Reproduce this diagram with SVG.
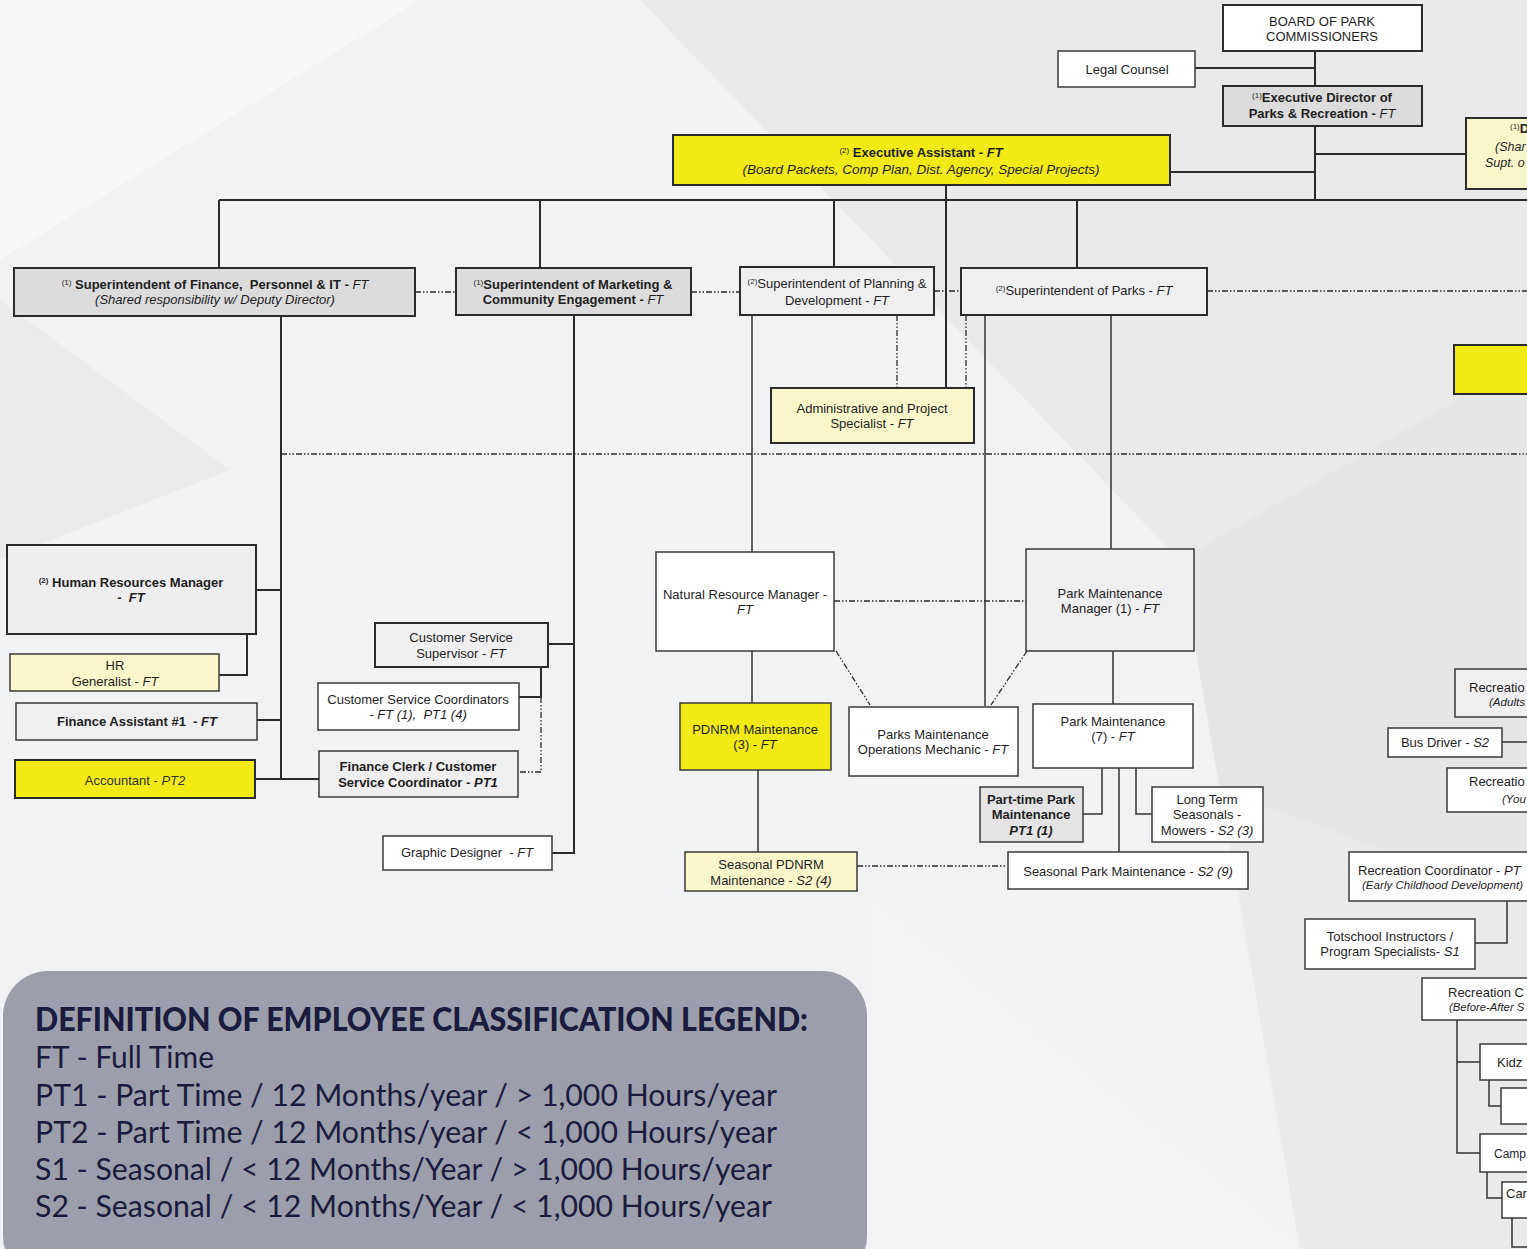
<svg xmlns="http://www.w3.org/2000/svg" width="1527" height="1249" viewBox="0 0 1527 1249">
<style>
.t{font-family:"Liberation Sans",Arial,sans-serif;font-size:13px;fill:#1e1e1e;text-anchor:middle}
.s{text-anchor:start}
.b{font-weight:bold}
.i{font-style:italic}
.n{font-weight:normal}
.sup{font-size:8px}
.f11{font-size:11.3px}
.f115{font-size:11.6px}
.f12{font-size:12px}
.f125{font-size:12.5px}
.f135{font-size:13.5px}
.box{stroke:#2b2b2b;stroke-width:2}
.sm{stroke:#3a3a3a;stroke-width:1.5}
.w{fill:#ffffff}
.g{fill:#dcdcdd}
.lg{fill:#efeff0}
.y{fill:#f2ea14}
.ly{fill:#faf6cc}
.c{fill:none;stroke:#2b2b2b;stroke-width:2}
.c2{fill:none;stroke:#333;stroke-width:1.5}
.d{fill:none;stroke:#2b2b2b;stroke-width:1.3;stroke-dasharray:6 2 1.5 2 1.5 2}
.lt{font-family:Lato,"Open Sans",sans-serif;fill:#1b1b3f}
</style>
<g id="background">
<rect width="1527" height="1249" fill="#eaeaeb"/>
<polygon points="0,0 640,0 1180,560 1300,1249 0,1249" fill="#f1f2f3"/>
<polygon points="0,0 420,0 0,260" fill="#f6f7f8"/>
<polygon points="0,300 230,470 0,560" fill="#ebebec"/>
<polygon points="870,900 1300,1249 870,1249" fill="#f3f4f5"/>
<polygon points="1180,560 1527,360 1527,900 1220,790" fill="#e6e6e7"/>
</g>
<g id="connectors">
<path class="c" d="M1315 51V86M1195 68H1315M1315 126V200M1315 154H1466M1170 172H1315"/>
<path class="c" stroke-width="2.5" d="M219 200H1527"/>
<path class="c" d="M219 200V268M540 200V268M834 200V267M1077 200V268M946 185V388"/>
<path class="c" d="M281 316V779M256 590H281M257 720H281M255 779H319M247 634V675H219"/>
<path class="c" d="M574 315V853H552M548 644H574M541 667V697H519"/>
<path class="c2" d="M752 315V552M985 315V706M1111 315V550M752 651V703M758 770V852M1113 651V704M1102 768V814H1083M1119 768V852M1136 768V814H1152"/>
<path class="c2" d="M1502 742H1527M1507 901V943H1475M1457 1020V1153H1480M1457 1062H1480M1489 1080V1106H1501M1487 1172V1198H1502M1512 1218V1247H1527"/>
<path class="d" d="M415 292H456M691 292H740M934 291H961M1207 291H1527M281 454H1527M897 315V388M966 315V388M541 697V772H518M834 601H1026M857 866H1007M836 651L870 705M1027 651L991 705"/>
</g>
<g id="board"><rect class="box w" x="1223" y="5" width="199" height="46"/>
<text class="t" x="1322" y="26">BOARD OF PARK</text><text class="t" x="1322" y="41">COMMISSIONERS</text></g>
<g id="legal"><rect class="sm w" x="1058" y="51" width="137" height="36"/>
<text class="t" x="1127" y="74">Legal Counsel</text></g>
<g id="exec-director"><rect class="box g" x="1223" y="86" width="199" height="40"/>
<text class="t b" x="1322" y="102"><tspan class="sup n" dy="-4">(1)</tspan><tspan dy="4">Executive Director of</tspan></text>
<text class="t b" x="1322" y="118">Parks &amp; Recreation - <tspan class="i n">FT</tspan></text></g>
<g id="deputy"><rect class="box ly" x="1466" y="118" width="70" height="71"/>
<text class="t s" x="1510" y="133"><tspan class="sup" dy="-4">(1)</tspan><tspan class="b" dy="4">D</tspan></text>
<text class="t s i f125" x="1495" y="151">(Shar</text>
<text class="t s i f125" x="1485" y="167">Supt. o</text></g>
<g id="exec-assistant"><rect class="box y" x="673" y="135" width="497" height="50"/>
<text class="t b" x="921" y="157"><tspan class="sup n" dy="-4">(2)</tspan><tspan dy="4"> Executive Assistant - </tspan><tspan class="i">FT</tspan></text>
<text class="t i f135" x="921" y="174">(Board Packets, Comp Plan, Dist. Agency, Special Projects)</text></g>
<g id="right-yellow"><rect class="box y" x="1454" y="345" width="80" height="49"/></g>
<g id="supt-finance"><rect class="box g" x="14" y="268" width="401" height="48"/>
<text class="t b" x="215" y="289" xml:space="preserve"><tspan class="sup n" dy="-4">(1)</tspan><tspan dy="4"> Superintendent of Finance,  Personnel &amp; IT - </tspan><tspan class="i n">FT</tspan></text>
<text class="t i" x="215" y="304">(Shared responsibility w/ Deputy Director)</text></g>
<g id="supt-marketing"><rect class="box g" x="456" y="268" width="235" height="47"/>
<text class="t b" x="573" y="289"><tspan class="sup n" dy="-4">(1)</tspan><tspan dy="4">Superintendent of Marketing &amp;</tspan></text>
<text class="t b" x="573" y="304">Community Engagement - <tspan class="i n">FT</tspan></text></g>
<g id="supt-planning"><rect class="box lg" x="740" y="267" width="194" height="48"/>
<text class="t" x="837" y="288"><tspan class="sup" dy="-4">(2)</tspan><tspan dy="4">Superintendent of Planning &amp;</tspan></text>
<text class="t" x="837" y="305">Development - <tspan class="i">FT</tspan></text></g>
<g id="supt-parks"><rect class="box lg" x="961" y="268" width="246" height="47"/>
<text class="t" x="1084" y="295"><tspan class="sup" dy="-4">(2)</tspan><tspan dy="4">Superintendent of Parks - </tspan><tspan class="i">FT</tspan></text></g>
<g id="admin-specialist"><rect class="box ly" x="771" y="388" width="203" height="55"/>
<text class="t" x="872" y="413">Administrative and Project</text>
<text class="t" x="872" y="428">Specialist - <tspan class="i">FT</tspan></text></g>
<g id="hr-manager"><rect class="box" fill="#eeeeef" stroke-width="2.5" x="7" y="545" width="249" height="89"/>
<text class="t b" x="131" y="587"><tspan class="sup" dy="-4">(2)</tspan><tspan dy="4"> Human Resources Manager</tspan></text>
<text class="t b" x="131" y="602" xml:space="preserve">-  <tspan class="i">FT</tspan></text></g>
<g id="hr-generalist"><rect class="sm ly" x="10" y="654" width="209" height="37"/>
<text class="t" x="115" y="670">HR</text>
<text class="t" x="115" y="686">Generalist - <tspan class="i">FT</tspan></text></g>
<g id="finance-assistant"><rect class="sm lg" x="16" y="703" width="241" height="37"/>
<text class="t b" x="137" y="726" xml:space="preserve">Finance Assistant #1  - <tspan class="i">FT</tspan></text></g>
<g id="accountant"><rect class="box y" x="15" y="760" width="240" height="38"/>
<text class="t" x="135" y="785" style="fill:#333">Accountant - <tspan class="i">PT2</tspan></text></g>
<g id="cs-supervisor"><rect class="box lg" x="375" y="623" width="173" height="44"/>
<text class="t" x="461" y="642">Customer Service</text>
<text class="t" x="461" y="658">Supervisor - <tspan class="i">FT</tspan></text></g>
<g id="cs-coordinators"><rect class="sm w" x="318" y="683" width="201" height="47"/>
<text class="t" x="418" y="704">Customer Service Coordinators</text>
<text class="t i" x="418" y="719" xml:space="preserve">- FT (1),  PT1 (4)</text></g>
<g id="finance-clerk"><rect class="sm lg" x="319" y="751" width="199" height="46"/>
<text class="t b" x="418" y="771">Finance Clerk / Customer</text>
<text class="t b" x="418" y="787">Service Coordinator - <tspan class="i">PT1</tspan></text></g>
<g id="graphic-designer"><rect class="sm w" x="383" y="836" width="169" height="34"/>
<text class="t" x="467" y="857" xml:space="preserve">Graphic Designer  - <tspan class="i">FT</tspan></text></g>
<g id="nat-resource-mgr"><rect class="sm w" x="656" y="552" width="178" height="99"/>
<text class="t" x="745" y="599">Natural Resource Manager -</text>
<text class="t i" x="745" y="614">FT</text></g>
<g id="park-maint-mgr"><rect class="sm lg" x="1026" y="549" width="168" height="102"/>
<text class="t" x="1110" y="598">Park Maintenance</text>
<text class="t" x="1110" y="613">Manager (1) - <tspan class="i">FT</tspan></text></g>
<g id="pdnrm"><rect class="sm y" x="680" y="703" width="151" height="67"/>
<text class="t" x="755" y="734">PDNRM Maintenance</text>
<text class="t" x="755" y="749">(3) - <tspan class="i">FT</tspan></text></g>
<g id="mechanic"><rect class="sm w" x="849" y="707" width="169" height="69"/>
<text class="t" x="933" y="739">Parks Maintenance</text>
<text class="t" x="933" y="754">Operations Mechanic - <tspan class="i">FT</tspan></text></g>
<g id="park-maint"><rect class="sm w" x="1033" y="704" width="160" height="64"/>
<text class="t" x="1113" y="726">Park Maintenance</text>
<text class="t" x="1113" y="741">(7) - <tspan class="i">FT</tspan></text></g>
<g id="pt-park-maint"><rect class="sm" fill="#e4e4e5" x="980" y="787" width="103" height="55"/>
<text class="t b" x="1031" y="804">Part-time Park</text>
<text class="t b" x="1031" y="819">Maintenance</text>
<text class="t b i" x="1031" y="835">PT1 (1)</text></g>
<g id="long-term"><rect class="sm w" x="1152" y="787" width="111" height="55"/>
<text class="t" x="1207" y="804">Long Term</text>
<text class="t" x="1207" y="819">Seasonals -</text>
<text class="t" x="1207" y="835">Mowers - <tspan class="i">S2 (3)</tspan></text></g>
<g id="seasonal-pdnrm"><rect class="sm ly" x="685" y="852" width="172" height="39"/>
<text class="t" x="771" y="869">Seasonal PDNRM</text>
<text class="t" x="771" y="885">Maintenance - <tspan class="i">S2 (4)</tspan></text></g>
<g id="seasonal-park"><rect class="sm w" x="1008" y="852" width="240" height="37"/>
<text class="t" x="1128" y="876">Seasonal Park Maintenance - <tspan class="i">S2 (9)</tspan></text></g>
<g id="rec-adults"><rect class="sm lg" x="1455" y="669" width="80" height="48"/>
<text class="t s" x="1469" y="692">Recreatio</text>
<text class="t s i f115" x="1489" y="706">(Adults</text></g>
<g id="bus-driver"><rect class="sm w" x="1388" y="728" width="114" height="29"/>
<text class="t" x="1445" y="747">Bus Driver - <tspan class="i">S2</tspan></text></g>
<g id="rec-youth"><rect class="sm w" x="1447" y="768" width="90" height="44"/>
<text class="t s" x="1469" y="786">Recreatio</text>
<text class="t s i f115" x="1502" y="803">(You</text></g>
<g id="rec-early"><rect class="sm w" x="1349" y="852" width="190" height="49"/>
<text class="t s" x="1358" y="875">Recreation Coordinator - <tspan class="i">PT</tspan></text>
<text class="t s i f115" x="1362" y="889">(Early Childhood Development)</text></g>
<g id="totschool"><rect class="sm w" x="1305" y="919" width="170" height="50"/>
<text class="t" x="1390" y="941">Totschool Instructors /</text>
<text class="t" x="1390" y="956">Program Specialists- <tspan class="i">S1</tspan></text></g>
<g id="rec-before-after"><rect class="sm w" x="1422" y="978" width="115" height="42"/>
<text class="t s" x="1448" y="997">Recreation C</text>
<text class="t s i f11" x="1449" y="1011">(Before-After S</text></g>
<g id="kidz"><rect class="sm w" x="1480" y="1044" width="60" height="36"/>
<text class="t s" x="1497" y="1067">Kidz</text></g>
<g id="kidz-sub"><rect class="sm w" x="1501" y="1088" width="40" height="36"/></g>
<g id="camp"><rect class="sm w" x="1480" y="1134" width="60" height="38"/>
<text class="t s f12" x="1494" y="1158">Camp</text></g>
<g id="camp-sub"><rect class="sm w" x="1502" y="1182" width="40" height="36"/>
<text class="t s" x="1506" y="1198">Car</text></g>
<g id="legend">
<rect x="3" y="971" width="864" height="310" rx="45" fill="#9c9eab"/>
<text class="lt" x="35" y="1031" font-size="32" font-weight="900" textLength="773" lengthAdjust="spacingAndGlyphs">DEFINITION OF EMPLOYEE CLASSIFICATION LEGEND:</text>
<text class="lt" x="35" y="1068" font-size="31" textLength="179" lengthAdjust="spacingAndGlyphs">FT - Full Time</text>
<text class="lt" x="35" y="1106" font-size="31" textLength="742" lengthAdjust="spacingAndGlyphs">PT1 - Part Time / 12 Months/year / &gt; 1,000 Hours/year</text>
<text class="lt" x="35" y="1143" font-size="31" textLength="742" lengthAdjust="spacingAndGlyphs">PT2 - Part Time / 12 Months/year / &lt; 1,000 Hours/year</text>
<text class="lt" x="35" y="1180" font-size="31" textLength="737" lengthAdjust="spacingAndGlyphs">S1 - Seasonal / &lt; 12 Months/Year / &gt; 1,000 Hours/year</text>
<text class="lt" x="35" y="1217" font-size="31" textLength="737" lengthAdjust="spacingAndGlyphs">S2 - Seasonal / &lt; 12 Months/Year / &lt; 1,000 Hours/year</text>
</g>
</svg>
